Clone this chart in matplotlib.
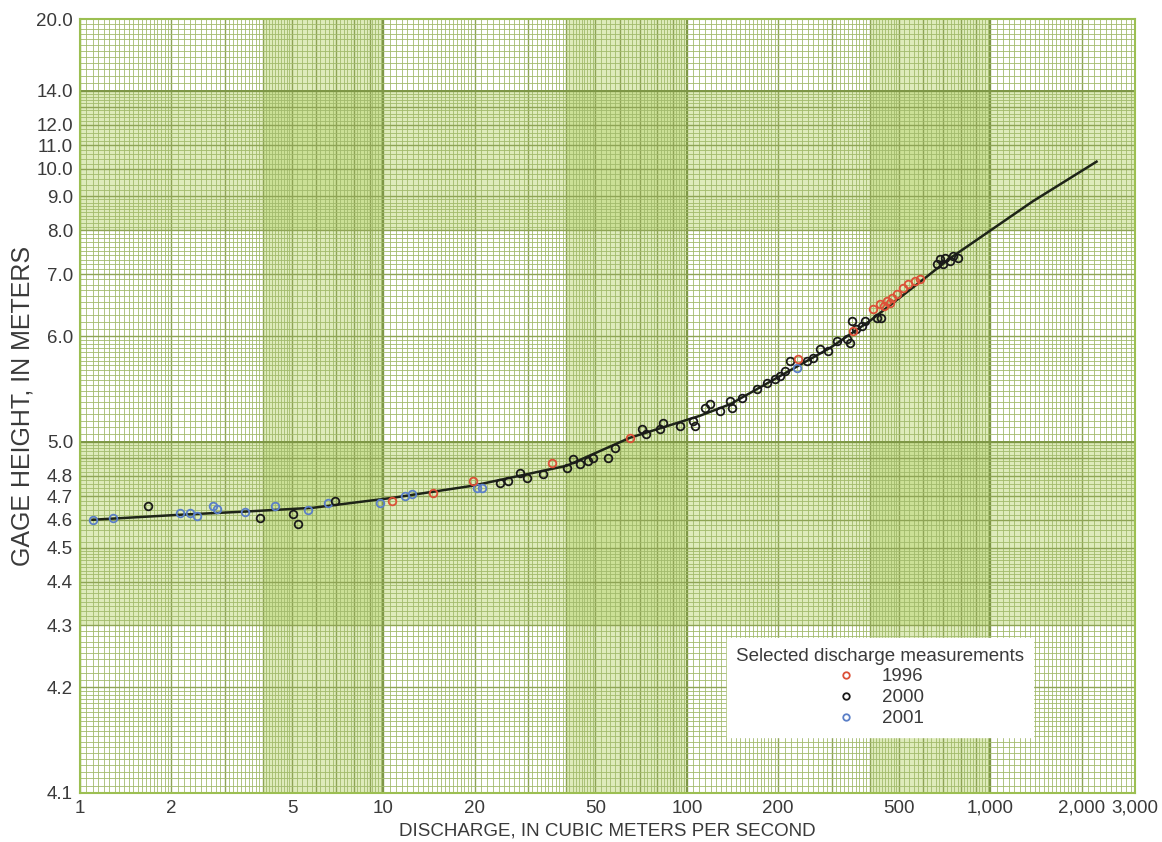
import numpy as np
import matplotlib
matplotlib.use('Agg')
import matplotlib.pyplot as plt

plt.rcParams['font.family'] = ['Liberation Sans', 'DejaVu Sans']

# rating curve (discharge m3/s, gage height m)
curve_q = [1.10, 2.14, 3.50, 5.86, 10.75, 19.7, 40.2, 64.9, 110, 139, 203, 296, 401, 586, 736, 1380, 2240]
curve_h = [4.600, 4.620, 4.633, 4.649, 4.693, 4.750, 4.855, 5.027, 5.185, 5.28, 5.54, 5.85, 6.21, 6.85, 7.33, 8.84, 10.28]

# selected discharge measurements
q_1996 = [10.7, 14.6, 19.7, 35.9, 64.9, 232, 352, 410, 433, 448, 456, 466, 474, 492, 515, 535, 564, 586]
h_1996 = [4.680, 4.716, 4.775, 4.872, 5.027, 5.72, 6.07, 6.39, 6.47, 6.44, 6.52, 6.49, 6.56, 6.63, 6.74, 6.81, 6.87, 6.90]

q_2000 = [1.675, 3.92, 5.03, 5.23, 6.92, 24.2, 25.7, 28.2, 29.7, 33.5, 40.2, 42.1, 44.4, 47.2, 49.0,
          54.9, 57.9, 71.1, 73.6, 81.3, 83.4, 94.8, 104.7, 106, 114.6, 119, 128.5, 138.6, 141, 151.7,
          170, 183.5, 195, 202.5, 211, 218, 248, 260, 274, 291.5, 312, 336, 345, 349, 362, 377, 386,
          423, 437, 666, 682, 697, 708, 736, 752, 781]
h_2000 = [4.658, 4.608, 4.625, 4.585, 4.680, 4.765, 4.775, 4.817, 4.790, 4.810, 4.844, 4.895, 4.866, 4.880, 4.900,
          4.900, 4.962, 5.089, 5.054, 5.089, 5.132, 5.110, 5.147, 5.110, 5.249, 5.280, 5.225, 5.308, 5.250, 5.334,
          5.415, 5.471, 5.510, 5.540, 5.590, 5.700, 5.700, 5.730, 5.840, 5.820, 5.940, 5.960, 5.910, 6.210, 6.090, 6.140, 6.210,
          6.250, 6.250, 7.220, 7.310, 7.220, 7.330, 7.270, 7.380, 7.330]

q_2001 = [1.104, 1.284, 2.136, 2.30, 2.43, 2.74, 2.83, 3.50, 4.39, 5.64, 6.56, 9.73, 11.77, 12.4, 20.3, 21.2, 230]
h_2001 = [4.600, 4.608, 4.629, 4.627, 4.616, 4.658, 4.645, 4.633, 4.658, 4.641, 4.671, 4.671, 4.700, 4.710, 4.740, 4.737, 5.620]

x_ticks = [1, 2, 5, 10, 20, 50, 100, 200, 500, 1000, 2000, 3000]
x_labels = ['1', '2', '5', '10', '20', '50', '100', '200', '500', '1,000', '2,000', '3,000']
y_ticks = [4.1, 4.2, 4.3, 4.4, 4.5, 4.6, 4.7, 4.8, 5.0, 6.0, 7.0, 8.0, 9.0, 10.0, 11.0, 12.0, 14.0, 20.0]

OFFSET = 4.0  # gage height of zero flow used for the log scale


def fwd(h):
    return np.log10(np.maximum(np.asarray(h, dtype=float) - OFFSET, 1e-9))


def inv(v):
    return 10 ** np.asarray(v, dtype=float) + OFFSET


def paper_lines(decades, lo, hi):
    minor, medium = [], []
    for d in decades:
        minor += list(d * np.arange(1, 2, 0.05)) + list(d * np.arange(2, 5, 0.1)) + list(d * np.arange(5, 10, 0.2))
        medium += list(d * np.arange(1, 10))
    minor = [v for v in minor if lo <= v <= hi]
    medium = [v for v in medium if lo <= v <= hi]
    return minor, medium


fig = plt.figure(figsize=(11.62, 8.42), dpi=100)
ax = fig.add_axes([0.0688, 0.0582, 0.9080, 0.9192])
ax.set_xscale('log')
ax.set_yscale('function', functions=(fwd, inv))
ax.set_xlim(1, 3000)
ax.set_ylim(4.1, 20.0)

# graph paper shading
band = '#b6d46a'
for x0, x1 in [(4, 10), (40, 100), (400, 1000)]:
    ax.axvspan(x0, x1, color=band, alpha=0.45, lw=0, zorder=0)
for h0, h1 in [(4.3, 5.0), (8.0, 14.0)]:
    ax.axhspan(h0, h1, color=band, alpha=0.45, lw=0, zorder=0)

xm, xM = paper_lines([1, 10, 100, 1000], 1, 3000)
ax.vlines(xm, 4.1, 20, color='#a2ba6c', lw=0.6, zorder=1)
ax.vlines(xM, 4.1, 20, color='#8ea455', lw=1.0, zorder=1)
ax.vlines([1, 10, 100, 1000], 4.1, 20, color='#7d9645', lw=1.4, zorder=1)

vm, vM = paper_lines([0.1, 1, 10], 0.1, 16)
ax.hlines([v + OFFSET for v in vm], 1, 3000, color='#a2ba6c', lw=0.6, zorder=1)
ax.hlines([v + OFFSET for v in vM], 1, 3000, color='#8ea455', lw=1.0, zorder=1)
ax.hlines([4.1, 5.0, 14.0], 1, 3000, color='#7d9645', lw=1.4, zorder=1)

ax.plot(curve_q, curve_h, color='#1e2418', lw=1.8, zorder=3)

mk = dict(ls='none', marker='o', ms=5.5, mew=1.3, mfc='none', zorder=4)
ax.plot(q_2001, h_2001, mec='#5b7fc7', label='2001', **mk)
ax.plot(q_2000, h_2000, mec='#1a1a1a', label='2000', **mk)
ax.plot(q_1996, h_1996, mec='#dc5038', label='1996', **mk)

for s in ax.spines.values():
    s.set_color('#9cbf52')
    s.set_linewidth(1.5)

ax.set_xticks(x_ticks)
ax.set_xticklabels(x_labels)
ax.xaxis.set_minor_locator(matplotlib.ticker.NullLocator())
ax.set_yticks(y_ticks)
ax.set_yticklabels(['%.1f' % v for v in y_ticks])
ax.yaxis.set_minor_locator(matplotlib.ticker.NullLocator())
ax.tick_params(length=0, labelsize=13.5, labelcolor='#3a3a3a', pad=5)

ax.set_xlabel('DISCHARGE, IN CUBIC METERS PER SECOND', fontsize=13.5, color='#3a3a3a', labelpad=4)
ax.set_ylabel('GAGE HEIGHT, IN METERS', fontsize=18, color='#3a3a3a', labelpad=1)

handles, labels = ax.get_legend_handles_labels()
order = [2, 1, 0]
leg = ax.legend([handles[i] for i in order], [labels[i] for i in order],
                title='Selected discharge measurements', title_fontsize=13.5, fontsize=13.5,
                loc='upper left', bbox_to_anchor=(0.613, 0.20), borderaxespad=0,
                frameon=True, fancybox=False, framealpha=1, edgecolor='white',
                handlelength=1.0, handletextpad=1.4, labelspacing=0.2, borderpad=0.5,
                markerscale=0.85)
for t in leg.get_texts():
    t.set_color('#3a3a3a')
leg.get_title().set_color('#3a3a3a')
leg.set_zorder(6)

fig.savefig('out.png', dpi=100)
